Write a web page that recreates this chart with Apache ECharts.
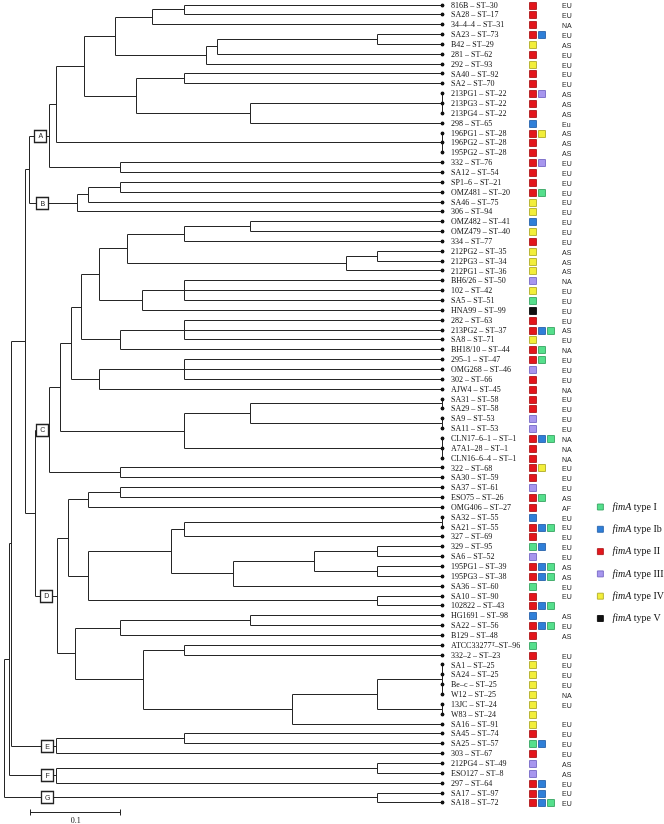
<!DOCTYPE html>
<html><head><meta charset="utf-8">
<script src="https://cdn.jsdelivr.net/npm/echarts@6/dist/echarts.min.js"></script>
<style>html,body{margin:0;padding:0;background:#fff}#c{width:664px;height:824px}</style>
</head><body><div id="c"></div>
<script>
// ---------------- DATA ----------------
const TIP = 0.4847; // distance from root to the tips

const isolates = ['816B','SA28','34–4–4','SA23','B42','281','292','SA40','SA2','213PG1',
  '213PG3','213PG4','298','196PG1','196PG2','195PG2','332','SA12','SP1–6','OMZ481',
  'SA46','306','OMZ482','OMZ479','334','212PG2','212PG3','212PG1','BH6/26','102',
  'SA5','HNA99','282','213PG2','SA8','BH18/10','295–1','OMG268','302','AJW4',
  'SA31','SA29','SA9','SA11','CLN17–6–1','A7A1–28','CLN16–6–4','322','SA30','SA37',
  'ESO75','OMG406','SA32','SA21','327','329','SA6','195PG1','195PG3','SA36',
  'SA10','102822','HG1691','SA22','B129','ATCC33277^T','332–2','SA1','SA24','Be–c',
  'W12','13JC','W83','SA16','SA45','SA25','303','212PG4','ESO127','297',
  'SA17','SA18'];

const stTypes = [30,17,31,73,29,62,93,92,70,22, 22,22,65,28,28,28,76,54,21,20,
  75,94,41,40,77,35,34,36,50,42, 51,99,63,37,71,44,47,46,66,45,
  58,58,53,53,1,1,1,68,59,61, 26,27,55,55,69,95,52,39,38,60,
  90,43,98,56,48,96,23,25,25,25, 25,24,24,91,74,57,67,49,8,64, 97,72];

const fimA = [['II'],['II'],['II'],['II','Ib'],['IV'],['II'],['IV'],['II'],['II'],['II','III'],
  ['II'],['II'],['Ib'],['II','IV'],['II'],['II'],['II','III'],['II'],['II'],['II','I'],
  ['IV'],['IV'],['Ib'],['IV'],['II'],['IV'],['IV'],['IV'],['III'],['IV'],
  ['I'],['V'],['II'],['II','Ib','I'],['IV'],['II','I'],['II','I'],['III'],['II'],['II'],
  ['II'],['II'],['III'],['III'],['II','Ib','I'],['II'],['II'],['II','IV'],['II'],['III'],
  ['II','I'],['II'],['Ib'],['II','Ib','I'],['II'],['I','Ib'],['III'],['II','Ib','I'],['II','Ib','I'],['I'],
  ['II'],['II','Ib','I'],['Ib'],['II','Ib','I'],['II'],['I'],['II'],['IV'],['IV'],['IV'],
  ['IV'],['IV'],['IV'],['IV'],['II'],['I','Ib'],['II'],['III'],['III'],['II','Ib'],
  ['II','Ib'],['II','Ib','I']];

const regions = ['EU','EU','NA','EU','AS','EU','EU','EU','EU','AS', 'AS','AS','Eu','AS','AS','AS','EU','EU','EU','EU',
  'EU','EU','EU','EU','EU','AS','AS','AS','NA','EU', 'EU','EU','EU','AS','EU','NA','EU','EU','EU','NA',
  'EU','EU','EU','EU','NA','NA','NA','EU','EU','EU', 'AS','AF','EU','EU','EU','EU','EU','AS','AS','EU',
  'EU','','AS','EU','AS','','EU','EU','EU','EU', 'NA','EU','','EU','EU','EU','EU','AS','AS','EU', 'EU','EU'];

const fimTypes = ['I','Ib','II','III','IV','V'];

// Tree: [node distance from root, ...children]; a child is a leaf index or a node
const tree =
[0,
  [0.0063,
    [0.0085,
      [0.0233,
        [0.0277,
          [0.0506,
            [0.0580,
              [0.0883,
                [0.1234,
                  [0.1643, [0.2001, 0, 1], 2],
                  [0.2241, [0.2359, [0.4138, 3, 4], 5], 6]
                ],
                [0.1466,
                  [0.2001, 7, 8],
                  [0.2721, [TIP, 9, 10, 11], 12]
                ]
              ],
              [TIP, 13, 14, 15]
            ],
            [0.1292, 16, 17]
          ],
          [0.0813, [0.0935, [0.1292, 18, 19], 20], 21]
        ],
        [0.0340,
          [0.0498,
            [0.0620,
              [0.0739,
                [0.0860,
                  [0.1049,
                    [0.1367,
                      [0.2001, [0.2721, 22, 23], 24],
                      [0.3792, [0.4138, 25, 26], 27]
                    ],
                    [0.1525, [0.2001, 28, 29, 30], 31]
                  ],
                  [0.1292, [0.2001, 32, 33, 34], 35]
                ],
                [0.1049, [0.2001, 36, 37, 38], 39]
              ],
              [0.2001,
                [0.2721, [TIP, 40, 41], [TIP, 42, 43]],
                [TIP, 44, 45, 46]
              ]
            ],
            [0.1292, 47, 48]
          ],
          [0.0591,
            [0.0713,
              [0.0935, [0.1292, 49, 50], 51],
              [0.0935,
                [0.1857,
                  [0.2001, [TIP, 52, 53], 54],
                  [0.2536, [0.3433, [0.4138, 55, 56], [0.4138, 57, 58]], 59]
                ],
                [0.4138, 60, 61]
              ]
            ],
            [0.0791,
              [0.1292, [0.2721, 62, 63], 64],
              [0.1547,
                [0.2001, 65, 66],
                [0.3194, [0.4138, [TIP, 67, 68, 69, 70], [TIP, 71, 72]], 73]
              ]
            ]
          ]
        ]
      ],
      [0.0580, [0.2001, 74, 75], 76]
    ],
    [0.0580, [0.4138, 77, 78], 79]
  ],
  [0.4138, 80, 81]
];

// Clades: letter, first leaf, last leaf, label position along the distance axis
const cladeNames = ['A','B','C','D','E','F','G'];
const cladeFirst = [0,18,22,49,74,77,80];
const cladeLast  = [17,21,48,73,76,79,81];
const cladeLabelAt = [0.0399,0.0421,0.0421,0.0464,0.0475,0.0475,0.0475];

const scaleStart = 0.0292, scaleLength = 0.1, scaleRow = 82;

// ---------------- STYLE ----------------
const fimColors = {I:['#55df8c','#2e9e5a'], Ib:['#2f7fd8','#1f5ca6'], II:['#e3161c','#a80f12'],
  III:['#a796ee','#6f60c0'], IV:['#f2ee3a','#aaa41e'], V:['#111111','#000000']};
const LINE = '#262626';

// ---------------- LAYOUT ----------------
const segments = [];
const nodes = [];
function layout(n) {
  if (typeof n === 'number') return {x: TIP, y: n, lo: n, hi: n};
  const d = n[0];
  const ks = n.slice(1).map(layout);
  const y = (ks[0].y + ks[ks.length - 1].y) / 2;
  segments.push([d, ks[0].y, d, ks[ks.length - 1].y]);
  ks.forEach(k => { if (k.x > d) segments.push([d, k.y, k.x, k.y]); });
  const r = {x: d, y, lo: ks[0].lo, hi: ks[ks.length - 1].hi};
  nodes.push(r);
  return r;
}
layout(tree);

const cladeData = cladeNames.map((c, i) => {
  const nd = nodes.find(n => n.lo === cladeFirst[i] && n.hi === cladeLast[i]);
  return [cladeLabelAt[i], nd.y];
});

const crisp = v => Math.round(v - 0.5) + 0.5;

const series = [];
series.push({
  type: 'custom', name: 'tree', silent: true,
  dimensions: ['x1','y1','x2','y2'], encode: {x: [0, 2], y: [1, 3]},
  data: segments,
  renderItem(params, api) {
    const a = api.coord([api.value(0), api.value(1)]);
    const b = api.coord([api.value(2), api.value(3)]);
    return {type: 'line', shape: {x1: crisp(a[0]), y1: crisp(a[1]), x2: crisp(b[0]), y2: crisp(b[1])},
      style: {stroke: LINE, lineWidth: 1}};
  }
});

series.push({
  type: 'custom', name: 'leaves', silent: true,
  encode: {x: 0, y: 1},
  data: isolates.map((s, i) => [TIP, i]),
  renderItem(params, api) {
    const i = api.value(1);
    const p = api.coord([api.value(0), i]);
    const name = isolates[i];
    let text;
    if (name.endsWith('^T')) text = name.slice(0, -2) + '{s|T}–ST–' + stTypes[i];
    else text = name + ' – ST–' + stTypes[i];
    const kids = [
      {type: 'circle', shape: {cx: crisp(p[0]), cy: crisp(p[1]), r: 1.9}, style: {fill: '#111'}},
      {type: 'text', style: {text, x: p[0] + 9, y: p[1] + 0.5, fill: '#111',
        fontFamily: 'Liberation Serif', fontSize: 8, align: 'left', verticalAlign: 'middle',
        rich: {s: {fontFamily: 'Liberation Serif', fontSize: 5.5, verticalAlign: 'top', lineHeight: 5, padding: [0, 0, 5, 0]}}}}
    ];
    if (regions[i]) kids.push({type: 'text', style: {text: regions[i], x: p[0] + 120, y: p[1] + 1.5,
      fill: '#222', fontFamily: 'Liberation Sans', fontSize: 7, align: 'left', verticalAlign: 'middle'}});
    return {type: 'group', children: kids};
  }
});

fimTypes.forEach(t => {
  const data = [];
  fimA.forEach((arr, i) => { const s = arr.indexOf(t); if (s >= 0) data.push([TIP, i, s]); });
  series.push({
    type: 'custom', name: 'fimA type ' + t, silent: true,
    itemStyle: {color: fimColors[t][0], borderColor: fimColors[t][1], borderWidth: 0.8},
    encode: {x: 0, y: 1},
    data,
    renderItem(params, api) {
      const p = api.coord([api.value(0), api.value(1)]);
      const s = api.value(2);
      return {type: 'rect', shape: {x: Math.round(p[0] + 87 + s * 9) + 0.5, y: Math.round(p[1] - 3.5) + 0.5, width: 7, height: 7},
        style: {fill: fimColors[t][0], stroke: fimColors[t][1], lineWidth: 0.8}};
    }
  });
});

series.push({
  type: 'custom', name: 'clades', silent: true,
  encode: {x: 0, y: 1},
  data: cladeData,
  renderItem(params, api) {
    const p = api.coord([api.value(0), api.value(1)]);
    const w = 12, h = 12;
    return {type: 'group', children: [
      {type: 'rect', shape: {x: crisp(p[0] - w / 2), y: crisp(p[1] - h / 2), width: w, height: h},
        style: {fill: '#fff', stroke: '#222', lineWidth: 1.3}},
      {type: 'text', style: {text: cladeNames[params.dataIndex], x: p[0] + 0.5, y: p[1] + 0.5,
        fill: '#222', fontFamily: 'Liberation Sans', fontSize: 7, align: 'center', verticalAlign: 'middle'}}
    ]};
  }
});

series.push({
  type: 'custom', name: 'scale', silent: true,
  encode: {x: [0, 2], y: 1},
  data: [[scaleStart, scaleRow, scaleStart + scaleLength]],
  renderItem(params, api) {
    const a = api.coord([api.value(0), api.value(1)]);
    const b = api.coord([api.value(2), api.value(1)]);
    const y = crisp(a[1]);
    return {type: 'group', children: [
      {type: 'line', shape: {x1: crisp(a[0]), y1: y, x2: crisp(b[0]), y2: y}, style: {stroke: LINE, lineWidth: 1}},
      {type: 'line', shape: {x1: crisp(a[0]), y1: y - 3, x2: crisp(a[0]), y2: y + 3}, style: {stroke: LINE, lineWidth: 1}},
      {type: 'line', shape: {x1: crisp(b[0]), y1: y - 3, x2: crisp(b[0]), y2: y + 3}, style: {stroke: LINE, lineWidth: 1}},
      {type: 'text', style: {text: String(scaleLength), x: (a[0] + b[0]) / 2, y: y + 8, fill: '#111',
        fontFamily: 'Liberation Serif', fontSize: 8, align: 'center', verticalAlign: 'middle'}}
    ]};
  }
});

const chart = echarts.init(document.getElementById('c'), null, {renderer: 'canvas'});
chart.setOption({
  animation: false,
  backgroundColor: '#fff',
  grid: {left: 4.3, right: 222, top: 5, bottom: 11.3, containLabel: false},
  xAxis: {type: 'value', min: 0, max: TIP, show: false},
  yAxis: {type: 'value', min: 0, max: scaleRow, inverse: true, show: false},
  legend: {
    orient: 'vertical', left: 597, top: 501, padding: 0, icon: 'rect', itemWidth: 6, itemHeight: 6, itemGap: 10.3,
    selectedMode: false,
    itemStyle: {borderWidth: 0.8},
    data: fimTypes.map(t => 'fimA type ' + t),
    formatter: n => '{i|fimA} type ' + n.replace('fimA type ', ''),
    textStyle: {fontFamily: 'Liberation Serif', fontSize: 10, color: '#111', lineHeight: 12, padding: [0, 0, 0, 4],
      rich: {i: {fontFamily: 'Liberation Serif', fontStyle: 'italic', fontSize: 10, lineHeight: 12, color: '#111'}}}
  },
  series
});
</script></body></html>
